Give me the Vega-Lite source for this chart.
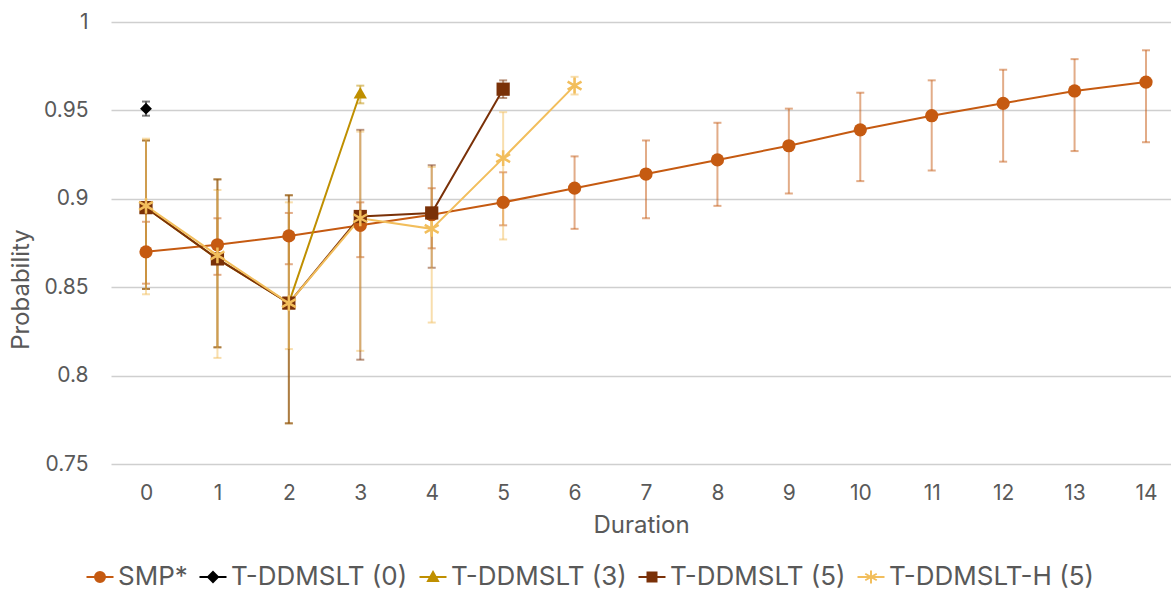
{
  "$schema": "https://vega.github.io/schema/vega-lite/v6.json",
  "width": 1060,
  "height": 442,
  "autosize": {"type": "none"},
  "padding": {"left": 111, "top": 22, "right": 0, "bottom": 126},
  "background": "white",
  "config": {
    "view": {"stroke": null},
    "font": "Inter",
    "axis": {"labelFont": "Inter", "titleFont": "Inter", "labelColor": "#595959", "titleColor": "#595959", "titleFontWeight": "normal", "labelFontSize": 21, "titleFontSize": 24},
    "legend": {"labelFont": "Inter", "labelColor": "#595959", "labelFontSize": 26, "labelLimit": 400}
  },
  "data": {
    "values": [
      {"series": "SMP*", "dur": 0, "p": 0.870, "lo": 0.852, "hi": 0.887},
      {"series": "SMP*", "dur": 1, "p": 0.874, "lo": 0.857, "hi": 0.889},
      {"series": "SMP*", "dur": 2, "p": 0.879, "lo": 0.863, "hi": 0.892},
      {"series": "SMP*", "dur": 3, "p": 0.885, "lo": 0.867, "hi": 0.898},
      {"series": "SMP*", "dur": 4, "p": 0.891, "lo": 0.872, "hi": 0.906},
      {"series": "SMP*", "dur": 5, "p": 0.898, "lo": 0.885, "hi": 0.915},
      {"series": "SMP*", "dur": 6, "p": 0.906, "lo": 0.883, "hi": 0.924},
      {"series": "SMP*", "dur": 7, "p": 0.914, "lo": 0.889, "hi": 0.933},
      {"series": "SMP*", "dur": 8, "p": 0.922, "lo": 0.896, "hi": 0.943},
      {"series": "SMP*", "dur": 9, "p": 0.930, "lo": 0.903, "hi": 0.951},
      {"series": "SMP*", "dur": 10, "p": 0.939, "lo": 0.910, "hi": 0.960},
      {"series": "SMP*", "dur": 11, "p": 0.947, "lo": 0.916, "hi": 0.967},
      {"series": "SMP*", "dur": 12, "p": 0.954, "lo": 0.921, "hi": 0.973},
      {"series": "SMP*", "dur": 13, "p": 0.961, "lo": 0.927, "hi": 0.979},
      {"series": "SMP*", "dur": 14, "p": 0.966, "lo": 0.932, "hi": 0.984},
      {"series": "T-DDMSLT (0)", "dur": 0, "p": 0.951, "lo": 0.947, "hi": 0.955},
      {"series": "T-DDMSLT (3)", "dur": 0, "p": 0.895, "lo": 0.849, "hi": 0.933},
      {"series": "T-DDMSLT (3)", "dur": 1, "p": 0.866, "lo": 0.816, "hi": 0.911},
      {"series": "T-DDMSLT (3)", "dur": 2, "p": 0.841, "lo": 0.773, "hi": 0.902},
      {"series": "T-DDMSLT (3)", "dur": 3, "p": 0.960, "lo": 0.954, "hi": 0.964},
      {"series": "T-DDMSLT (5)", "dur": 0, "p": 0.895, "lo": 0.849, "hi": 0.933},
      {"series": "T-DDMSLT (5)", "dur": 1, "p": 0.866, "lo": 0.816, "hi": 0.911},
      {"series": "T-DDMSLT (5)", "dur": 2, "p": 0.841, "lo": 0.773, "hi": 0.902},
      {"series": "T-DDMSLT (5)", "dur": 3, "p": 0.890, "lo": 0.809, "hi": 0.939},
      {"series": "T-DDMSLT (5)", "dur": 4, "p": 0.892, "lo": 0.861, "hi": 0.919},
      {"series": "T-DDMSLT (5)", "dur": 5, "p": 0.962, "lo": 0.957, "hi": 0.967},
      {"series": "T-DDMSLT-H (5)", "dur": 0, "p": 0.896, "lo": 0.846, "hi": 0.934},
      {"series": "T-DDMSLT-H (5)", "dur": 1, "p": 0.868, "lo": 0.810, "hi": 0.905},
      {"series": "T-DDMSLT-H (5)", "dur": 2, "p": 0.841, "lo": 0.815, "hi": 0.898},
      {"series": "T-DDMSLT-H (5)", "dur": 3, "p": 0.889, "lo": 0.814, "hi": 0.938},
      {"series": "T-DDMSLT-H (5)", "dur": 4, "p": 0.883, "lo": 0.830, "hi": 0.918},
      {"series": "T-DDMSLT-H (5)", "dur": 5, "p": 0.923, "lo": 0.877, "hi": 0.949},
      {"series": "T-DDMSLT-H (5)", "dur": 6, "p": 0.964, "lo": 0.959, "hi": 0.969}
    ]
  },
  "encoding": {
    "x": {
      "field": "dur", "type": "quantitative",
      "scale": {"domain": [-0.49, 14.35], "nice": false, "zero": false},
      "axis": {"title": "Duration", "values": [0,1,2,3,4,5,6,7,8,9,10,11,12,13,14], "grid": false, "domain": false, "ticks": false, "labelPadding": 18, "titlePadding": 10, "labelFlush": false}
    },
    "color": {"field": "series", "type": "nominal",
      "scale": {"domain": ["SMP*", "T-DDMSLT (0)", "T-DDMSLT (3)", "T-DDMSLT (5)", "T-DDMSLT-H (5)"], "range": ["#C55A11", "#000000", "#BF8F00", "#7A3108", "#F2BE5C"]},
      "legend": {
        "orient": "none", "legendX": -24, "legendY": 542, "direction": "horizontal", "title": null,
        "symbolSize": 100, "labelOffset": 5, "columnPadding": 7, "labelLimit": 400,
        "encode": {"symbols": {"update": {
          "shape": {"signal": "datum.value === 'SMP*' ? 'M-2.7,0L2.7,0M-1,0A1,1,0,1,0,1,0A1,1,0,1,0,-1,0Z' : datum.value === 'T-DDMSLT (0)' ? 'M-2.7,0L2.7,0M0,-1L1,0L0,1L-1,0Z' : datum.value === 'T-DDMSLT (3)' ? 'M-2.7,0L2.7,0M0,-1L1,0.8L-1,0.8Z' : datum.value === 'T-DDMSLT (5)' ? 'M-2.7,0L2.7,0M-0.9,-0.9L0.9,-0.9L0.9,0.9L-0.9,0.9Z' : 'M-2.7,0L2.7,0M0,-1.3L0,1.3M-1.15,-0.65L1.15,0.65M-1.15,0.65L1.15,-0.65'"},
          "fill": {"signal": "scale('color', datum.value)"},
          "stroke": {"signal": "scale('color', datum.value)"},
          "strokeWidth": {"value": 2},
          "opacity": {"value": 1}
        }}}
      }
    }
  },
  "layer": [
    {
      "mark": {"type": "errorbar", "ticks": {"size": 8, "opacity": 0.5}, "rule": {"opacity": 0.5}, "thickness": 2},
      "encoding": {
        "y": {"field": "lo", "type": "quantitative", "scale": {"domain": [0.75, 1], "nice": false, "zero": false},
          "axis": {"title": "Probability", "format": "~g", "values": [0.75, 0.8, 0.85, 0.9, 0.95, 1], "grid": true, "gridColor": "#cfcfcf", "gridWidth": 1.5, "domain": false, "ticks": false, "labelPadding": 23, "titlePadding": 10, "titleY": 267}},
        "y2": {"field": "hi"}
      }
    },
    {
      "mark": {"type": "line", "strokeWidth": 2},
      "encoding": {"y": {"field": "p", "type": "quantitative"}}
    },
    {
      "transform": [{"filter": "datum.series === 'SMP*'"}],
      "mark": {"type": "point", "filled": true, "size": 175, "opacity": 1, "shape": "circle"},
      "encoding": {"y": {"field": "p", "type": "quantitative"}}
    },
    {
      "transform": [{"filter": "datum.series === 'T-DDMSLT (0)'"}],
      "mark": {"type": "point", "filled": true, "size": 140, "opacity": 1, "shape": "diamond"},
      "encoding": {"y": {"field": "p", "type": "quantitative"}}
    },
    {
      "transform": [{"filter": "datum.series === 'T-DDMSLT (3)'"}],
      "mark": {"type": "point", "filled": true, "size": 175, "opacity": 1, "shape": "triangle-up"},
      "encoding": {"y": {"field": "p", "type": "quantitative"}}
    },
    {
      "transform": [{"filter": "datum.series === 'T-DDMSLT (5)'"}],
      "mark": {"type": "point", "filled": true, "size": 175, "opacity": 1, "shape": "square"},
      "encoding": {"y": {"field": "p", "type": "quantitative"}}
    },
    {
      "transform": [{"filter": "datum.series === 'T-DDMSLT-H (5)'"}],
      "mark": {"type": "point", "filled": false, "size": 175, "opacity": 1, "strokeWidth": 2.5, "shape": "M0,-1.2L0,1.2M-1.05,-0.6L1.05,0.6M-1.05,0.6L1.05,-0.6"},
      "encoding": {"y": {"field": "p", "type": "quantitative"}}
    }
  ]
}
